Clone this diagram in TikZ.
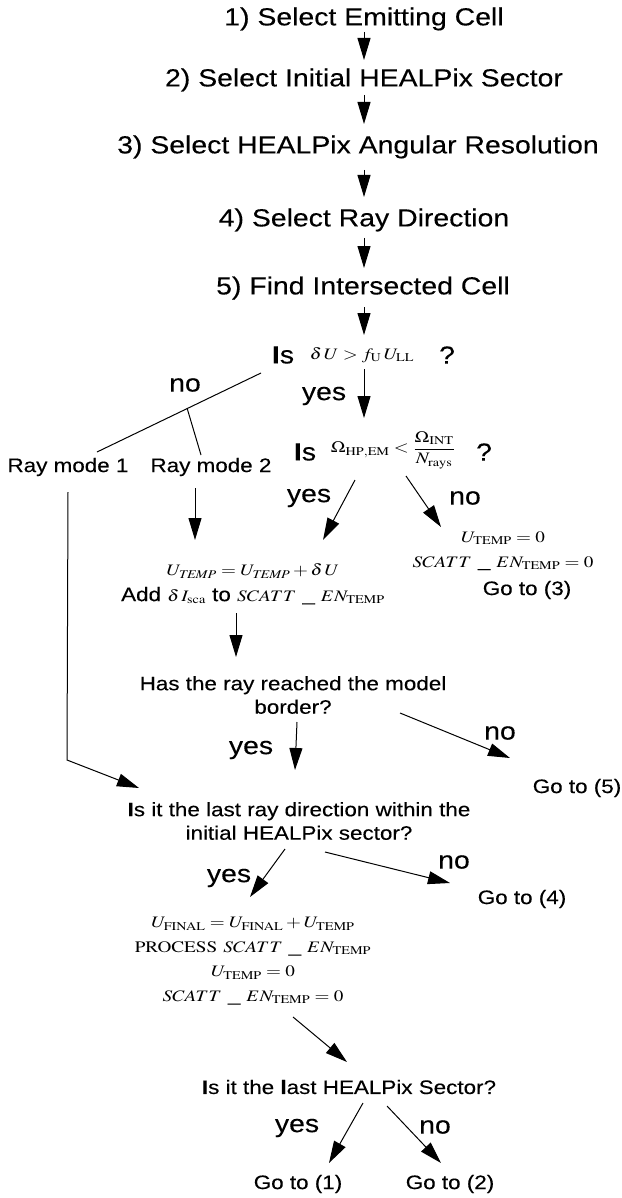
\documentclass[tikz,border=0pt]{standalone}
\usepackage{mathptmx}
\usepackage[no-math]{fontspec}
\setmainfont{Liberation Sans}[FakeStretch=1.15, FakeBold=0.2]
\usepackage{graphicx}
\usetikzlibrary{arrows.meta, calc}
\tikzset{
	% step titles
	bigtxt/.style={font=\fontsize{24.7}{28}\selectfont, inner sep=0pt},
	% questions, jumps
	midtxt/.style={font=\fontsize{19.5}{23.5}\selectfont, inner sep=0pt, align=center},
	% formula blocks
	eqtxt/.style={font=\fontsize{16}{24.5}\selectfont, inner sep=0pt, align=center},
	% yes / no
	ans/.style={font=\fontsize{24.7}{28}\selectfont, inner sep=0pt},
	arrw/.style={-{Triangle[length=22pt, width=13pt]}, line width=1pt},
	lne/.style={line width=1pt}
}
\newcommand{\fm}[1]{\scalebox{1.2}[1]{\fontsize{16}{24}\selectfont$#1$}}

\begin{document}
\begin{tikzpicture}[x=1pt, y=-1pt]
	\useasboundingbox (0,0) rectangle (621,1198);

	%% steps 1-5
	\node [bigtxt] (t1) at (364,19) {1) Select Emitting Cell};
	\node [bigtxt] (t2) at (364,80) {2) Select Initial HEALPix Sector};
	\node [bigtxt] (t3) at (358,147) {3) Select HEALPix Angular Resolution};
	\node [bigtxt] (t4) at (364,220) {4) Select Ray Direction};
	\node [bigtxt] (t5) at (363,288) {5) Find Intersected Cell};
	\draw [arrw] ($(t1)+(0,13)$) -- ($(t2)+(0,-20)$);
	\draw [arrw] ($(t2)+(0,15)$) -- ($(t3)+(6,-23)$);
	\draw [arrw] ($(t3)+(6,23)$) -- ($(t4)+(0,-23)$);
	\draw [arrw] ($(t4)+(0,18)$) -- ($(t5)+(1,-20)$);
	\draw [arrw] ($(t5)+(1,19)$) -- ($(t5)+(1,47)$);

	%% energy test
	\node [eqtxt] (q1) at (362,355) {\fm{\delta\,U > f_{\mathrm{U}}\,U_{\mathrm{LL}}}};
	\node [ans] (q1is) at (283,355) {\textbf{I}s};
	\node [ans] (q1q) at (447,355) {?};
	\node [ans] (yes1) at (324,396) {yes};
	\node [ans] (no1) at (185,385) {no};

	%% angle test
	\node [eqtxt] (q2) at (393,450) {\fm{\Omega_{\mathrm{HP,EM}} < \displaystyle\frac{\Omega_{\mathrm{INT}}}{N_{\mathrm{rays}}}}};
	\node [ans] (q2is) at (305,452) {\textbf{I}s};
	\node [ans] (q2q) at (484,452) {?};
	\draw [arrw] ($(q1)+(2,14)$) -- ($(q2)+(-29,-32)$);
	\node [ans] (yes2) at (309,498) {yes};
	\node [ans] (no2) at (465,498) {no};

	%% ray modes
	\node [midtxt] (rm1) at (68,467) {Ray mode 1};
	\node [midtxt] (rm2) at (211,467) {Ray mode 2};
	\draw [lne] ($(q1is)+(-22,18)$) -- coordinate [pos=0.45] (nob) ($(rm1)+(29,-15)$);
	\draw [lne] (nob) -- ($(rm2)+(-10,-12)$);

	\node [midtxt] (sc) at (253,584) {\fm{U_{\mathit{TEMP}} = U_{\mathit{TEMP}} + \delta\,U}\\[2pt]
		Add \fm{\delta\,I_{\mathrm{sca}}} to \fm{SCATT\ \_\ EN_{\mathrm{TEMP}}}};
	\node [eqtxt] (g3a) at (503,551) {\fm{U_{\mathrm{TEMP}} = 0}\\ \fm{SCATT\ \_\ EN_{\mathrm{TEMP}} = 0}};
	\node [midtxt] (g3) at (527,590) {Go to (3)};
	\draw [arrw] ($(rm2)+(-16,21)$) -- ($(sc)+(-58,-44)$);
	\draw [arrw] ($(q2)+(-38,30)$) -- ($(sc)+(70,-44)$);
	\draw [arrw] ($(q2)+(13,26)$) -- ($(g3a)+(-62,-24)$);

	%% border test
	\node [midtxt] (border) at (293,695) {Has the ray reached the model\\border?};
	\node [midtxt] (g5) at (577,788) {Go to (5)};
	\draw [arrw] ($(sc)+(-17,29)$) -- ($(border)+(-57,-38)$);
	\node [ans] (yes3) at (251,750) {yes};
	\node [ans] (no3) at (500,733) {no};

	%% last direction
	\node [midtxt] (last) at (299,821) {\textbf{I}s it the last ray direction within the\\initial HEALPix sector?};
	\node [midtxt] (g4) at (522,899) {Go to (4)};
	\draw [arrw] ($(border)+(4,27)$) -- ($(last)+(-4,-51)$);
	\draw [arrw] ($(border)+(107,18)$) -- ($(g5)+(-67,-30)$);
	\draw [arrw] ($(rm1)+(0,25)$) -- ++(-1,268) -- ($(last)+(-160,-33)$);
	\node [ans] (yes4) at (229,878) {yes};
	\node [ans] (no4) at (454,862) {no};

	\node [eqtxt] (fin) at (253,961) {\fm{U_{\mathrm{FINAL}} = U_{\mathrm{FINAL}} + U_{\mathrm{TEMP}}}\\
		\fm{\mathrm{PROCESS}\ SCATT\ \_\ EN_{\mathrm{TEMP}}}\\
		\fm{U_{\mathrm{TEMP}} = 0}\\
		\fm{SCATT\ \_\ EN_{\mathrm{TEMP}} = 0}};
	\draw [arrw] ($(last)+(-14,28)$) -- ($(fin)+(-3,-64)$);
	\draw [arrw] ($(last)+(26,31)$) -- ($(g4)+(-72,-16)$);

	%% last sector
	\node [midtxt] (lastsec) at (349,1087) {\textbf{I}s it the \textbf{l}ast HEALPix Sector?};
	\node [midtxt] (g1) at (298,1184) {Go to (1)};
	\node [midtxt] (g2) at (450,1184) {Go to (2)};
	\draw [arrw] ($(fin)+(40,56)$) -- ($(lastsec)+(-2,-25)$);
	\draw [arrw] ($(lastsec)+(14,16)$) -- ($(g1)+(31,-21)$);
	\draw [arrw] ($(lastsec)+(38,19)$) -- ($(g2)+(-9,-21)$);
	\node [ans] (yes5) at (297,1128) {yes};
	\node [ans] (no5) at (435,1127) {no};
\end{tikzpicture}
\end{document}
